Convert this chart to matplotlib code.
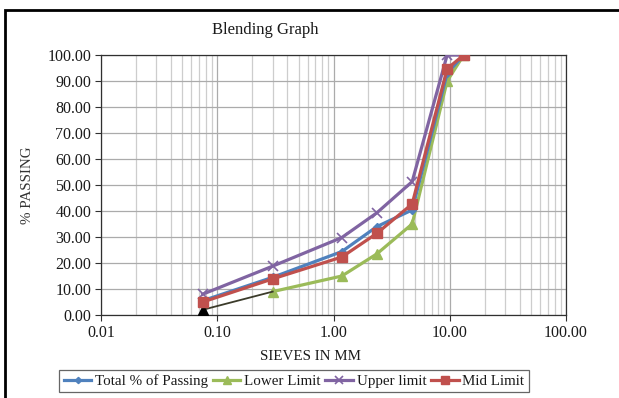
import numpy as np
import matplotlib
matplotlib.use("Agg")
import matplotlib.pyplot as plt
from matplotlib.ticker import FixedLocator, LogLocator, NullFormatter, FuncFormatter
from matplotlib.patches import Rectangle

plt.rcParams['font.family'] = ['Liberation Serif', 'DejaVu Serif']

# sieve sizes (mm) and % passing
sieves = [0.075, 0.3, 1.18, 2.36, 4.75, 9.5, 13.2]
total_passing = [5.5, 14.5, 24.4, 34.0, 40.4, 93.0, 100.0]
lower_limit = [2.0, 9.0, 15.0, 23.5, 35.0, 90.0, 100.0]
upper_limit = [8.0, 18.8, 29.8, 39.3, 51.3, 100.0, 100.0]
mid_limit = [5.0, 13.9, 22.3, 31.4, 42.7, 94.7, 100.0]

x_ticks = [0.01, 0.1, 1, 10, 100]
y_ticks = list(range(0, 101, 10))

blue = '#4F81BD'
green = '#9BBB59'
purple = '#8064A2'
red = '#C0504D'
txt = '#1a1a1a'

fig = plt.figure(figsize=(6.19, 3.98), dpi=100)
ax = fig.add_axes([101/619, 83/398, 465/619, 260/398])

ax.plot(sieves, total_passing, color=blue, lw=2.3, marker='D', ms=4, label='Total % of Passing', zorder=4)
ax.plot(sieves[1:], lower_limit[1:], color=green, lw=2.3, marker='^', ms=6.5, label='Lower Limit', zorder=3)
ax.plot(sieves[:2], lower_limit[:2], color='#3b3b2a', lw=1.3, zorder=3)
ax.plot(sieves[:1], lower_limit[:1], color='black', marker='^', ms=6.5, ls='none', zorder=3)
ax.plot(sieves, upper_limit, color=purple, lw=2.3, marker='x', ms=6.5, mew=1.2, label='Upper limit', zorder=3)
ax.plot(sieves, mid_limit, color=red, lw=2.3, marker='s', ms=7.5, label='Mid Limit', zorder=5)

ax.set_xscale('log')
ax.set_xlim(0.01, 100)
ax.set_ylim(0, 100)
ax.xaxis.set_major_locator(FixedLocator(x_ticks))
ax.xaxis.set_minor_locator(LogLocator(base=10, subs=np.arange(2, 10)))
ax.xaxis.set_minor_formatter(NullFormatter())
ax.xaxis.set_major_formatter(FuncFormatter(lambda v, p: f'{v:.2f}'))
ax.set_yticks(y_ticks)
ax.yaxis.set_major_formatter(FuncFormatter(lambda v, p: f'{v:.2f}'))

ax.grid(True, which='major', color='#ababab', lw=0.9)
ax.grid(True, which='minor', axis='x', color='#cdcdcd', lw=0.9)
ax.set_axisbelow(True)
for s in ax.spines.values():
    s.set_color('#303030')
    s.set_linewidth(0.9)
ax.tick_params(which='major', direction='out', length=4, color='#303030', labelsize=11.5, labelcolor=txt, pad=3)
ax.tick_params(which='minor', length=0)

fig.text(265/619, 1 - 30/398, 'Blending Graph', ha='center', va='center', fontsize=12, color=txt)
fig.text(28/619, 1 - 185/398, '% PASSING', ha='center', va='center', rotation=90, fontsize=10.8, color='#333333')
fig.text(310/619, 1 - 356/398, 'SIEVES IN MM', ha='center', va='center', fontsize=10.8, color=txt)

leg = fig.legend(loc='center', bbox_to_anchor=(294/619, 1 - 381/398), ncol=4, frameon=True,
                 fancybox=False, edgecolor='#404040', fontsize=10.8, handlelength=1.85,
                 handletextpad=0.25, columnspacing=0.3, borderpad=0.3, markerscale=0.8)
leg.get_frame().set_linewidth(0.9)
for t in leg.get_texts():
    t.set_color(txt)

# chart area border (left and top edges visible)
fig.patches.append(Rectangle((5/619, -0.1), 1.2, 1 - 10/398 + 0.1, transform=fig.transFigure,
                             fill=False, edgecolor='black', lw=2, zorder=10))

fig.savefig('out.png', dpi=100)
